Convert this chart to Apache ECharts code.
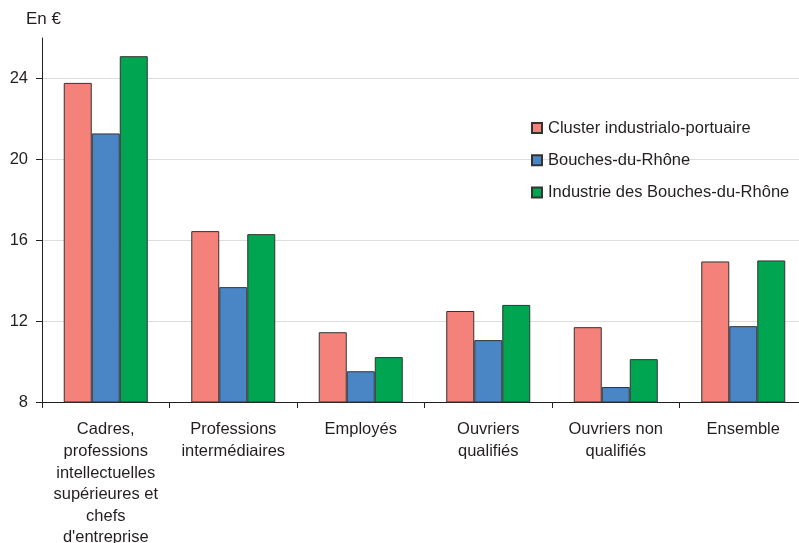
<!DOCTYPE html>
<html>
<head>
<meta charset="utf-8">
<script src="https://cdn.jsdelivr.net/npm/echarts@6/dist/echarts.min.js"></script>
<style>
  html, body { margin: 0; padding: 0; background: #fff; }
  #chart { width: 799px; height: 543px; }
</style>
</head>
<body>
<div id="chart"></div>
<script>
// Socio-professional categories (line breaks as shown under the axis)
const categories = [
  "Cadres,\nprofessions\nintellectuelles\nsupérieures et\nchefs\nd'entreprise",
  "Professions\nintermédiaires",
  "Employés",
  "Ouvriers\nqualifiés",
  "Ouvriers non\nqualifiés",
  "Ensemble"
];

const seriesNames = [
  "Cluster industrialo-portuaire",
  "Bouches-du-Rhône",
  "Industrie des Bouches-du-Rhône"
];

// Hourly net wages, in euros
const clusterValues = [23.78, 16.45, 11.45, 12.5, 11.7, 14.95];
const bdrValues = [21.28, 13.68, 9.52, 11.06, 8.74, 11.75];
const industrieValues = [25.1, 16.3, 10.22, 12.8, 10.12, 15.0];

const yTicks = [8, 12, 16, 20, 24];

const colors = ["#F4827A", "#4A86C6", "#00A551"];
const dataSets = [clusterValues, bdrValues, industrieValues];

const chart = echarts.init(document.getElementById("chart"), null, { renderer: "canvas" });

const textFont = { fontFamily: "Liberation Sans, Arial, sans-serif", fontSize: 16.5, color: "#231f20" };

chart.setOption({
  animation: false,
  backgroundColor: "#ffffff",
  textStyle: textFont,
  title: {
    text: "En €",
    left: 26,
    top: 11,
    padding: 0,
    textStyle: { ...textFont, fontSize: 17, fontWeight: "normal" }
  },
  legend: {
    orient: "vertical",
    left: 531,
    top: 119,
    padding: 0,
    itemWidth: 10,
    itemHeight: 10,
    itemGap: 14.3,
    icon: "rect",
    textStyle: { ...textFont, lineHeight: 18, padding: [0, 0, 0, 1] },
    data: seriesNames
  },
  grid: {
    left: 42,
    width: 765,
    top: 38,
    bottom: 141,
    containLabel: false,
    outerBoundsMode: "none"
  },
  xAxis: {
    type: "category",
    data: categories,
    axisLine: { lineStyle: { color: "#231f20", width: 1 } },
    axisTick: { show: true, length: 6, lineStyle: { color: "#231f20" } },
    axisLabel: {
      interval: 0,
      margin: 17,
      lineHeight: 21.6,
      ...textFont
    }
  },
  yAxis: {
    type: "value",
    min: 8,
    max: 26,
    interval: 4,
    axisLine: { show: true, lineStyle: { color: "#231f20", width: 1 } },
    axisTick: { show: true, length: 6, customValues: yTicks, lineStyle: { color: "#231f20" } },
    axisLabel: {
      margin: 14,
      customValues: yTicks,
      ...textFont
    },
    splitLine: {
      show: true,
      lineStyle: { color: ["#dddddd", "#dddddd", "#dddddd", "#dddddd", "#dddddd", "rgba(0,0,0,0)"], width: 1 }
    }
  },
  series: seriesNames.map((name, i) => ({
    name: name,
    type: "bar",
    data: dataSets[i],
    barWidth: 28,
    barGap: "0%",
    itemStyle: { color: colors[i], borderColor: "#333333", borderWidth: 1 }
  }))
});
</script>
</body>
</html>
